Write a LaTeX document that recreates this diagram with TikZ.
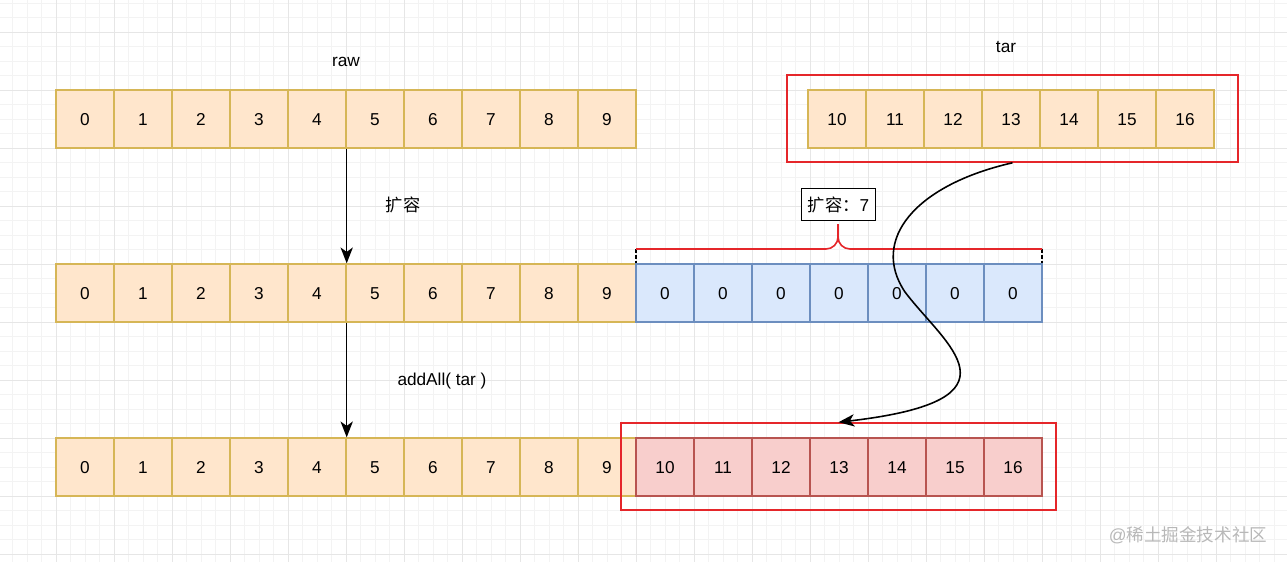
\documentclass[tikz,border=0pt]{standalone}
\usepackage{fontspec}
\setmainfont{Liberation Sans}
\newfontfamily\cjk{Noto Sans CJK SC}
\usetikzlibrary{arrows.meta}
\definecolor{orfill}{HTML}{FFE6CC}
\definecolor{ordraw}{HTML}{D6B656}
\definecolor{blfill}{HTML}{DAE8FC}
\definecolor{bldraw}{HTML}{6C8EBF}
\definecolor{pkfill}{HTML}{F8CECC}
\definecolor{pkdraw}{HTML}{B85450}
\definecolor{redline}{HTML}{E5262A}
\definecolor{gridminor}{HTML}{F3F3F3}
\definecolor{gridmajor}{HTML}{E6E6E6}
\definecolor{wmark}{HTML}{B8B8B8}
\tikzset{
  cellbase/.style={minimum width=1.16cm, minimum height=1.16cm, inner sep=0pt, text height=7pt, text depth=0pt, line width=0.8pt, font=\fontsize{9.8}{11}\selectfont},
  orcell/.style={cellbase, fill=orfill, draw=ordraw},
  blcell/.style={cellbase, fill=blfill, draw=bldraw},
  pkcell/.style={cellbase, fill=pkfill, draw=pkdraw},
  redbox/.style={draw=redline, line width=0.9pt, inner sep=0pt},
  lbl/.style={font=\fontsize{9.8}{11}\selectfont, inner sep=1pt},
  arr/.style={line width=0.8pt, -{Stealth[length=9pt,width=7pt,inset=2.5pt]}},
}
\begin{document}
\begin{tikzpicture}[x=0.02cm,y=-0.02cm]
\useasboundingbox (0,0) rectangle (1287,562);
\fill[white] (0,0) rectangle (1287,562);
% grid
\foreach \i in {-3,...,85} {
  \draw[gridminor, line width=0.4pt] ({56+14.5*\i},0) -- ({56+14.5*\i},562);
}
\foreach \j in {-6,...,33} {
  \draw[gridminor, line width=0.4pt] (0,{90+14.5*\j}) -- (1287,{90+14.5*\j});
}
\foreach \i in {0,...,21} {
  \draw[gridmajor, line width=0.5pt] ({56+58*(\i-1)},0) -- ({56+58*(\i-1)},562);
}
\foreach \j in {-1,...,8} {
  \draw[gridmajor, line width=0.5pt] (0,{90+58*\j}) -- (1287,{90+58*\j});
}
% labels
\node[lbl] (rawl) at (346,62) {raw};
\node[lbl] (tarl) at (1006,47) {tar};
% top raw row
\foreach \i in {0,...,9} {
  \node[orcell] (r\i) at ({85+58*\i},119) {\i};
}
% tar box
\node[redbox, minimum width=9.02cm, minimum height=1.74cm] (tarbox) at (1012.5,118.5) {};
\foreach \i [evaluate=\i as \v using int(10+\i)] in {0,...,6} {
  \node[orcell] (t\i) at ({837+58*\i},119) {\v};
}
% middle row
\foreach \i in {0,...,9} {
  \node[orcell] (m\i) at ({85+58*\i},293) {\i};
}
\foreach \i [evaluate=\i as \k using int(10+\i)] in {0,...,6} {
  \node[blcell] (m\k) at ({665+58*\i},293) {0};
}
% bottom row
\foreach \i in {0,...,9} {
  \node[orcell] (b\i) at ({85+58*\i},467) {\i};
}
\node[redbox, minimum width=8.7cm, minimum height=1.74cm] (botbox) at (838.5,466.5) {};
\foreach \i [evaluate=\i as \k using int(10+\i)] in {0,...,6} {
  \node[pkcell] (b\k) at ({665+58*\i},467) {\k};
}
% vertical arrows
\draw[arr] (r4.south east) -- (m4.north east);
\draw[arr] (m4.south east) -- (b4.north east);
\node[lbl] (kr) at (403,205) {\cjk 扩容};
\node[lbl] (aa) at (442,381) {addAll( tar )};
% brace
\coordinate (bl) at (636,249);
\coordinate (br) at (1042,249);
\coordinate (btip) at (838,224);
\draw[black, line width=0.6pt, dash pattern=on 2pt off 1.5pt] (636,249) -- (636,263);
\draw[black, line width=0.6pt, dash pattern=on 2pt off 1.5pt] (1042,249) -- (1042,263);
\draw[redline, line width=0.9pt] (bl) -- (826,249) to[out=0,in=-90] (838,237) -- (btip);
\draw[redline, line width=0.9pt] (br) -- (850,249) to[out=180,in=-90] (838,237);
\node[draw=black, fill=white, line width=0.8pt, minimum width=1.48cm, minimum height=0.64cm, inner xsep=3pt, inner ysep=0pt, font=\fontsize{9.8}{11}\selectfont] (exp) at (838.5,204.5) {{\cjk 扩容：}7};
% curved connector
\draw[line width=0.9pt, -{Stealth[length=9pt,width=7pt,inset=2.5pt]}] (tarbox.south) .. controls (915,185) and (870,240) .. (905,292) .. controls (945,345) and (1030,400) .. (botbox.north);
% watermark
\node[text=wmark, font=\fontsize{10}{12}\selectfont, inner sep=0pt] (wm) at (1188,535) {@{\cjk 稀土掘金技术社区}};
\end{tikzpicture}
\end{document}
